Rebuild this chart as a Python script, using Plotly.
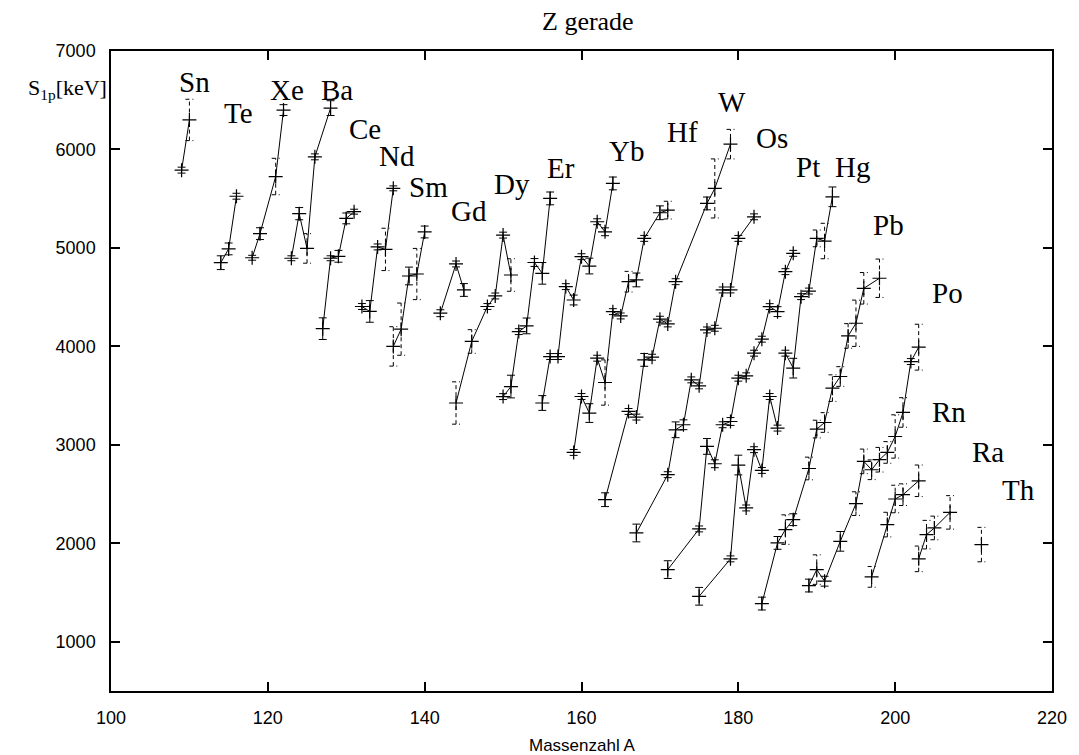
import plotly.graph_objects as go

# One-proton separation energies S_1p [keV] of even-Z nuclides versus mass number A.
# Per element: mass numbers, S_1p values, errors, and the mass numbers whose error bars are dashed.
SN_A = [109, 110]
SN_S = [5790, 6300]
SN_E = [30, 210]
SN_D = [110]

TE_A = [114, 115, 116]
TE_S = [4850, 4990, 5525]
TE_E = [70, 60, 30]
TE_D = []

XE_A = [118, 119, 121, 122]
XE_S = [4900, 5145, 5725, 6400]
XE_E = [25, 60, 185, 55]
XE_D = [121]

BA_A = [123, 124, 125, 126, 128]
BA_S = [4895, 5348, 4995, 5925, 6420]
BA_E = [25, 62, 150, 30, 75]
BA_D = [125]

CE_A = [127, 128, 129, 130, 131]
CE_S = [4180, 4895, 4915, 5300, 5368]
CE_E = [110, 25, 60, 55, 25]
CE_D = []

ND_A = [132, 133, 134, 135, 136]
ND_S = [4405, 4355, 5010, 4985, 5605]
ND_E = [30, 110, 30, 215, 25]
ND_D = [135]

SM_A = [136, 137, 138, 139, 140]
SM_S = [4000, 4175, 4715, 4735, 5162]
SM_E = [200, 265, 90, 260, 60]
SM_D = [136, 137, 139]

GD_A = [142, 144, 145]
GD_S = [4337, 4837, 4573]
GD_E = [35, 30, 65]
GD_D = []

DY_A = [144, 146, 148, 149, 150, 151]
DY_S = [3425, 4050, 4405, 4512, 5130, 4725]
DY_E = [215, 120, 30, 30, 30, 165]
DY_D = [144, 146, 151]

ER_A = [150, 151, 152, 153, 154, 155, 156]
ER_S = [3490, 3592, 4150, 4208, 4852, 4742, 5503]
ER_E = [30, 115, 30, 80, 40, 110, 65]
ER_D = []

YB_A = [155, 156, 157, 158, 159, 160, 161, 162, 163, 164]
YB_S = [3425, 3897, 3897, 4607, 4471, 4911, 4816, 5266, 5164, 5655]
YB_E = [75, 30, 30, 30, 50, 30, 80, 30, 40, 65]
YB_D = []

HF_A = [159, 160, 161, 162, 163, 164, 165, 166, 167, 168, 170, 171]
HF_S = [2923, 3491, 3323, 3880, 3633, 4353, 4309, 4657, 4675, 5097, 5357, 5384]
HF_E = [30, 30, 95, 30, 230, 30, 30, 105, 70, 30, 70, 90]
HF_D = [163, 166, 171]

W_A = [163, 166, 167, 168, 169, 170, 171, 172, 176, 177, 179]
W_S = [2443, 3339, 3282, 3863, 3890, 4276, 4228, 4657, 5452, 5604, 6054]
W_E = [70, 30, 30, 65, 30, 30, 30, 30, 65, 300, 150]
W_D = [177, 179]

OS_A = [167, 171, 172, 173, 174, 175, 176, 177, 178, 179, 180, 182]
OS_S = [2105, 2697, 3153, 3204, 3660, 3599, 4167, 4184, 4573, 4573, 5097, 5316]
OS_E = [90, 30, 80, 50, 30, 30, 30, 30, 30, 30, 30, 30]
OS_D = []

PT_A = [171, 175, 176, 177, 178, 179, 180, 181, 182, 183, 184, 185, 186, 187]
PT_S = [1733, 2146, 2984, 2808, 3204, 3237, 3677, 3701, 3931, 4073, 4404, 4353, 4759, 4945]
PT_E = [90, 30, 80, 40, 30, 40, 30, 30, 30, 30, 30, 50, 30, 30]
PT_D = []

HG_A = [175, 179, 180, 181, 182, 183, 184, 185, 186, 187, 188, 189, 190, 191, 192]
HG_S = [1462, 1842, 2795, 2359, 2951, 2740, 3491, 3170, 3931, 3779, 4505, 4562, 5097, 5070, 5519]
HG_E = [90, 30, 100, 30, 30, 30, 30, 30, 30, 100, 30, 30, 85, 180, 100]
HG_D = [190, 191]

PB_A = [183, 185, 186, 187, 189, 190, 191, 192, 193, 194, 195, 196, 198]
PB_S = [1388, 2004, 2139, 2240, 2760, 3160, 3227, 3576, 3694, 4106, 4235, 4590, 4692]
PB_E = [65, 65, 150, 60, 115, 90, 100, 135, 100, 125, 235, 160, 195]
PB_D = [186, 189, 190, 191, 192, 193, 194, 195, 196, 198]

PO_A = [189, 190, 191, 193, 195, 196, 197, 198, 199, 200, 201, 202, 203]
PO_S = [1571, 1733, 1615, 2020, 2403, 2832, 2747, 2849, 2923, 3085, 3329, 3846, 3992]
PO_E = [65, 150, 50, 100, 120, 125, 100, 125, 110, 220, 150, 30, 233]
PO_D = [190, 195, 196, 197, 198, 199, 200, 201, 203]

RN_A = [197, 199, 200, 201, 203]
RN_S = [1659, 2190, 2450, 2494, 2635]
RN_E = [105, 125, 140, 110, 160]
RN_D = [197, 199, 200, 201, 203]

RA_A = [203, 204, 205, 207]
RA_S = [1842, 2088, 2156, 2314]
RA_E = [130, 145, 120, 170]
RA_D = [203, 204, 205, 207]

TH_A = [211]
TH_S = [1987]
TH_E = [175]
TH_D = [211]

ELEMENTS = [
    ("Sn", SN_A, SN_S, SN_E, SN_D),
    ("Te", TE_A, TE_S, TE_E, TE_D),
    ("Xe", XE_A, XE_S, XE_E, XE_D),
    ("Ba", BA_A, BA_S, BA_E, BA_D),
    ("Ce", CE_A, CE_S, CE_E, CE_D),
    ("Nd", ND_A, ND_S, ND_E, ND_D),
    ("Sm", SM_A, SM_S, SM_E, SM_D),
    ("Gd", GD_A, GD_S, GD_E, GD_D),
    ("Dy", DY_A, DY_S, DY_E, DY_D),
    ("Er", ER_A, ER_S, ER_E, ER_D),
    ("Yb", YB_A, YB_S, YB_E, YB_D),
    ("Hf", HF_A, HF_S, HF_E, HF_D),
    ("W", W_A, W_S, W_E, W_D),
    ("Os", OS_A, OS_S, OS_E, OS_D),
    ("Pt", PT_A, PT_S, PT_E, PT_D),
    ("Hg", HG_A, HG_S, HG_E, HG_D),
    ("Pb", PB_A, PB_S, PB_E, PB_D),
    ("Po", PO_A, PO_S, PO_E, PO_D),
    ("Rn", RN_A, RN_S, RN_E, RN_D),
    ("Ra", RA_A, RA_S, RA_E, RA_D),
    ("Th", TH_A, TH_S, TH_E, TH_D),
]

# Where each element symbol is written (axis coordinates A, S_1p)
LABEL_POS = {
    "Sn": (110.6, 6690), "Te": (116.3, 6368), "Xe": (122.4, 6608), "Ba": (128.8, 6608),
    "Ce": (132.4, 6206), "Nd": (136.5, 5932), "Sm": (140.5, 5618), "Gd": (145.7, 5379),
    "Dy": (151.2, 5648), "Er": (157.4, 5811), "Yb": (165.7, 5984), "Hf": (172.9, 6179),
    "W": (179.15, 6483), "Os": (184.3, 6112), "Pt": (188.9, 5824), "Hg": (194.6, 5824),
    "Pb": (199.2, 5232), "Po": (206.7, 4540), "Rn": (206.9, 3336), "Ra": (211.8, 2923),
    "Th": (215.7, 2545),
}

X_RANGE = (100, 220)
Y_RANGE = (500, 7000)

W_PX, H_PX = 1079, 755
M_L, M_R, M_T, M_B = 111, 21, 51, 64
PLOT_W = W_PX - M_L - M_R
PLOT_H = H_PX - M_T - M_B
PX_PER_A = PLOT_W / (X_RANGE[1] - X_RANGE[0])
CAP_PX = 4.0
cap = CAP_PX / PX_PER_A

SERIF = "Liberation Serif, Times New Roman, serif"
SANS = "Liberation Sans, Arial, Helvetica, sans-serif"

fig = go.Figure()

# error bars: vertical bar plus caps, solid or dashed
solid_x, solid_y, dash_x, dash_y = [], [], [], []
for name, a_vals, s_vals, e_vals, d_vals in ELEMENTS:
    for a, s, e in zip(a_vals, s_vals, e_vals):
        xs = [a, a, None, a - cap, a + cap, None, a - cap, a + cap, None]
        ys = [s - e, s + e, None, s - e, s - e, None, s + e, s + e, None]
        if a in d_vals:
            dash_x += xs
            dash_y += ys
        else:
            solid_x += xs
            solid_y += ys

fig.add_trace(go.Scatter(x=solid_x, y=solid_y, mode="lines",
                         line=dict(color="black", width=1), hoverinfo="skip", showlegend=False))
fig.add_trace(go.Scatter(x=dash_x, y=dash_y, mode="lines",
                         line=dict(color="black", width=1, dash="4px,3px"),
                         hoverinfo="skip", showlegend=False))

# isotope chains
for name, a_vals, s_vals, e_vals, d_vals in ELEMENTS:
    fig.add_trace(go.Scatter(
        x=a_vals, y=s_vals, mode="lines+markers", name=name,
        line=dict(color="black", width=1),
        marker=dict(symbol="cross-thin", size=10, color="black",
                    line=dict(color="black", width=1.2)),
        showlegend=False,
    ))
    lx, ly = LABEL_POS[name]
    fig.add_annotation(x=lx, y=ly, text=name, showarrow=False,
                       font=dict(family=SERIF, size=29, color="black"),
                       xanchor="center", yanchor="middle")

# title and axis captions
fig.add_annotation(xref="paper", yref="paper", x=(591 - M_L) / PLOT_W,
                   y=1 + (M_T - 21) / PLOT_H,
                   text="Z gerade", showarrow=False, xanchor="center", yanchor="middle",
                   font=dict(family=SERIF, size=26, color="black"))
fig.add_annotation(xref="paper", yref="paper",
                   x=(25 - M_L) / PLOT_W, y=(H_PX - M_B - 89) / PLOT_H,
                   text="S<sub>1p</sub>[keV]", showarrow=False, xanchor="left", yanchor="middle",
                   font=dict(family=SERIF, size=22, color="black"))
fig.add_annotation(xref="paper", yref="paper", x=0.5,
                   y=-(745 - (H_PX - M_B)) / PLOT_H,
                   text="Massenzahl A", showarrow=False, xanchor="center", yanchor="middle",
                   font=dict(family=SANS, size=17, color="black"))

axis_common = dict(
    showline=True, linecolor="black", linewidth=1.5, mirror="ticks",
    ticks="inside", ticklen=9, tickwidth=1.5, tickcolor="black",
    showgrid=False, zeroline=False,
    tickfont=dict(family=SANS, size=18, color="black"),
)
fig.update_xaxes(range=list(X_RANGE), tickvals=list(range(100, 221, 20)),
                 ticklabelstandoff=10, **axis_common)
fig.update_yaxes(range=list(Y_RANGE), tickvals=list(range(1000, 7001, 1000)),
                 ticklabelstandoff=10, **axis_common)

fig.update_layout(
    width=W_PX, height=H_PX,
    margin=dict(l=M_L, r=M_R, t=M_T, b=M_B),
    paper_bgcolor="white", plot_bgcolor="white",
    showlegend=False,
)

fig.write_html("out.html")
